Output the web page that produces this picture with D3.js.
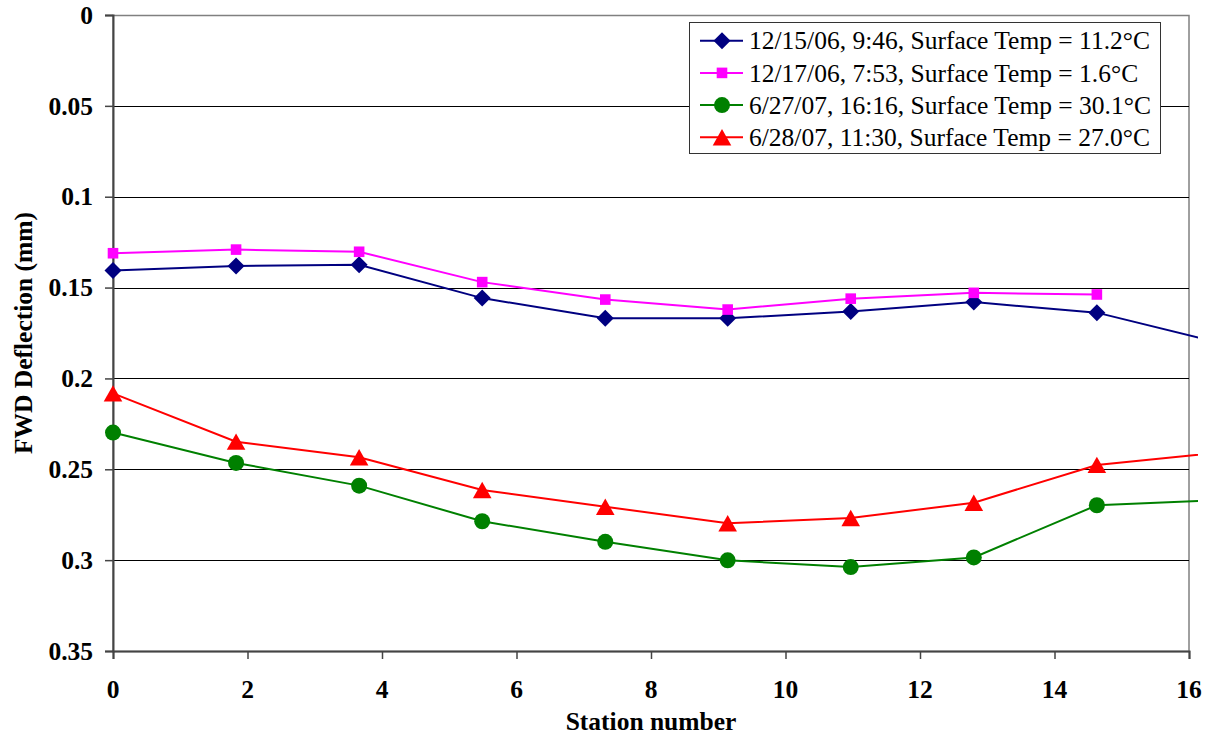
<!DOCTYPE html>
<html>
<head>
<meta charset="utf-8">
<script src="https://cdn.jsdelivr.net/npm/d3@7"></script>
<style>
  body { margin: 0; background: #fff; }
  svg { display: block; font-family: "Liberation Serif", "Times New Roman", serif; }
</style>
</head>
<body>
<script>
// station positions (m) and deflections (mm)
var stations = [0, 1.83, 3.66, 5.49, 7.32, 9.14, 10.97, 12.80, 14.63, 16.46];
var dec15 = [0.1406, 0.1381, 0.1375, 0.1558, 0.1669, 0.1669, 0.1632, 0.1580, 0.1638, 0.1805];
var dec17 = [0.1311, 0.1291, 0.1303, 0.1470, 0.1566, 0.1621, 0.1561, 0.1529, 0.1538];
var jun27 = [0.2298, 0.2465, 0.2590, 0.2786, 0.2899, 0.3001, 0.3038, 0.2985, 0.2698, 0.2670];
var jun28 = [0.2082, 0.2348, 0.2434, 0.2614, 0.2706, 0.2797, 0.2768, 0.2684, 0.2476, 0.2408];

var seriesNames = [
    "12/15/06, 9:46, Surface Temp = 11.2\u00B0C",
    "12/17/06, 7:53, Surface Temp = 1.6\u00B0C",
    "6/27/07, 16:16, Surface Temp = 30.1\u00B0C",
    "6/28/07, 11:30, Surface Temp = 27.0\u00B0C"
];
var xTicks = [0, 2, 4, 6, 8, 10, 12, 14, 16];
var yTicks = [0, 0.05, 0.1, 0.15, 0.2, 0.25, 0.3, 0.35];
var yTickLabels = ["0", "0.05", "0.1", "0.15", "0.2", "0.25", "0.3", "0.35"];

var series = [
    { name: seriesNames[0], values: dec15, color: "#000080", marker: "diamond" },
    { name: seriesNames[1], values: dec17, color: "#FF00FF", marker: "square" },
    { name: seriesNames[2], values: jun27, color: "#008000", marker: "circle" },
    { name: seriesNames[3], values: jun28, color: "#FF0000", marker: "triangle" }
];

var width = 1210, height = 737;
var plotL = 113, plotR = 1189, plotT = 15, plotB = 651;

var svg = d3.select("body").append("svg")
    .attr("width", width)
    .attr("height", height);

var x = d3.scaleLinear().domain([0, 16]).range([plotL, plotR]);
var y = d3.scaleLinear().domain([0, 0.35]).range([plotT, plotB]);

// marker shapes, centred on the point
function markerPath(type) {
    if (type == "diamond") return "M0,-8.5L8.5,0L0,8.5L-8.5,0Z";
    if (type == "square") return "M-5.3,-5.3H5.3V5.3H-5.3Z";
    if (type == "triangle") return "M0,-8.2L9.3,8.2L-9.3,8.2Z";
    return d3.arc()({ innerRadius: 0, outerRadius: 8, startAngle: 0, endAngle: 2 * Math.PI });
}

// lines run a little past the right border, as in the original
svg.append("defs").append("clipPath")
    .attr("id", "clip")
    .append("rect")
    .attr("x", plotL - 15).attr("y", plotT - 10)
    .attr("width", 1198 - plotL + 15).attr("height", plotB - plotT + 20);

// plot border
svg.append("rect")
    .attr("x", plotL).attr("y", plotT + 0.5)
    .attr("width", plotR - plotL).attr("height", plotB - plotT)
    .attr("fill", "none")
    .attr("stroke", "#808080")
    .attr("stroke-width", 1.5);

// gridlines
svg.append("g")
    .selectAll("line")
    .data(yTicks.slice(1, -1))
    .enter().append("line")
    .attr("x1", plotL).attr("x2", plotR)
    .attr("y1", function(d) { return Math.round(y(d)) + 0.5; })
    .attr("y2", function(d) { return Math.round(y(d)) + 0.5; })
    .attr("stroke", "#000")
    .attr("stroke-width", 1);

// axes: d3 draws the lines and ticks, labels are added below
var yAxis = svg.append("g")
    .attr("transform", "translate(" + plotL + ",0)")
    .call(d3.axisLeft(y).tickValues(yTicks).tickSize(8).tickFormat(""));
yAxis.select(".domain").attr("stroke", "#444").attr("stroke-width", 2);
yAxis.selectAll(".tick line").attr("stroke", "#444").attr("stroke-width", 1.5);

var xAxis = svg.append("g")
    .attr("transform", "translate(0," + plotB + ")")
    .call(d3.axisBottom(x).tickValues(xTicks).tickSize(8).tickFormat(""));
xAxis.select(".domain").attr("stroke", "#444").attr("stroke-width", 2);
xAxis.selectAll(".tick line").attr("stroke", "#444").attr("stroke-width", 1.5);

svg.append("g")
    .selectAll("text")
    .data(yTicks)
    .enter().append("text")
    .attr("x", plotL - 20)
    .attr("y", function(d) { return y(d); })
    .attr("dy", "0.34em")
    .attr("text-anchor", "end")
    .attr("font-size", "25.5px")
    .attr("font-weight", "bold")
    .text(function(d, i) { return yTickLabels[i]; });

svg.append("g")
    .selectAll("text")
    .data(xTicks)
    .enter().append("text")
    .attr("x", function(d) { return x(d); })
    .attr("y", plotB + 38)
    .attr("dy", "0.34em")
    .attr("text-anchor", "middle")
    .attr("font-size", "25.5px")
    .attr("font-weight", "bold")
    .text(function(d) { return d; });

// axis titles
svg.append("text")
    .attr("x", (plotL + plotR) / 2)
    .attr("y", 730)
    .attr("text-anchor", "middle")
    .attr("font-size", "25.5px")
    .attr("font-weight", "bold")
    .text("Station number");

svg.append("text")
    .attr("transform", "translate(32," + (plotT + plotB) / 2 + ") rotate(-90)")
    .attr("text-anchor", "middle")
    .attr("font-size", "25.5px")
    .attr("font-weight", "bold")
    .text("FWD Deflection (mm)");

// series lines and markers
var line = d3.line()
    .x(function(d) { return x(d[0]); })
    .y(function(d) { return y(d[1]); });

var plot = svg.append("g").attr("clip-path", "url(#clip)");

series.forEach(function(s) {
    var pts = s.values.map(function(v, i) { return [stations[i], v]; });
    plot.append("path")
        .datum(pts)
        .attr("fill", "none")
        .attr("stroke", s.color)
        .attr("stroke-width", 2)
        .attr("d", line);
    plot.selectAll(null)
        .data(pts)
        .enter().append("path")
        .attr("transform", function(d) { return "translate(" + x(d[0]) + "," + y(d[1]) + ")"; })
        .attr("d", markerPath(s.marker))
        .attr("fill", s.color);
});

// legend
var legend = svg.append("g").attr("transform", "translate(689,22)");
legend.append("rect")
    .attr("x", 0.5).attr("y", 0.5)
    .attr("width", 471).attr("height", 131)
    .attr("fill", "#fff")
    .attr("stroke", "#333")
    .attr("stroke-width", 1);

var item = legend.selectAll(".item")
    .data(series)
    .enter().append("g")
    .attr("class", "item")
    .attr("transform", function(d, i) { return "translate(0," + (18.7 + i * 32.2) + ")"; });

item.append("line")
    .attr("x1", 11).attr("x2", 54)
    .attr("stroke", function(d) { return d.color; })
    .attr("stroke-width", 2);
item.append("path")
    .attr("transform", "translate(33,0)")
    .attr("d", function(d) { return markerPath(d.marker); })
    .attr("fill", function(d) { return d.color; });
item.append("text")
    .attr("x", 60)
    .attr("dy", "0.34em")
    .attr("font-size", "25.5px")
    .text(function(d) { return d.name; });
</script>
</body>
</html>
